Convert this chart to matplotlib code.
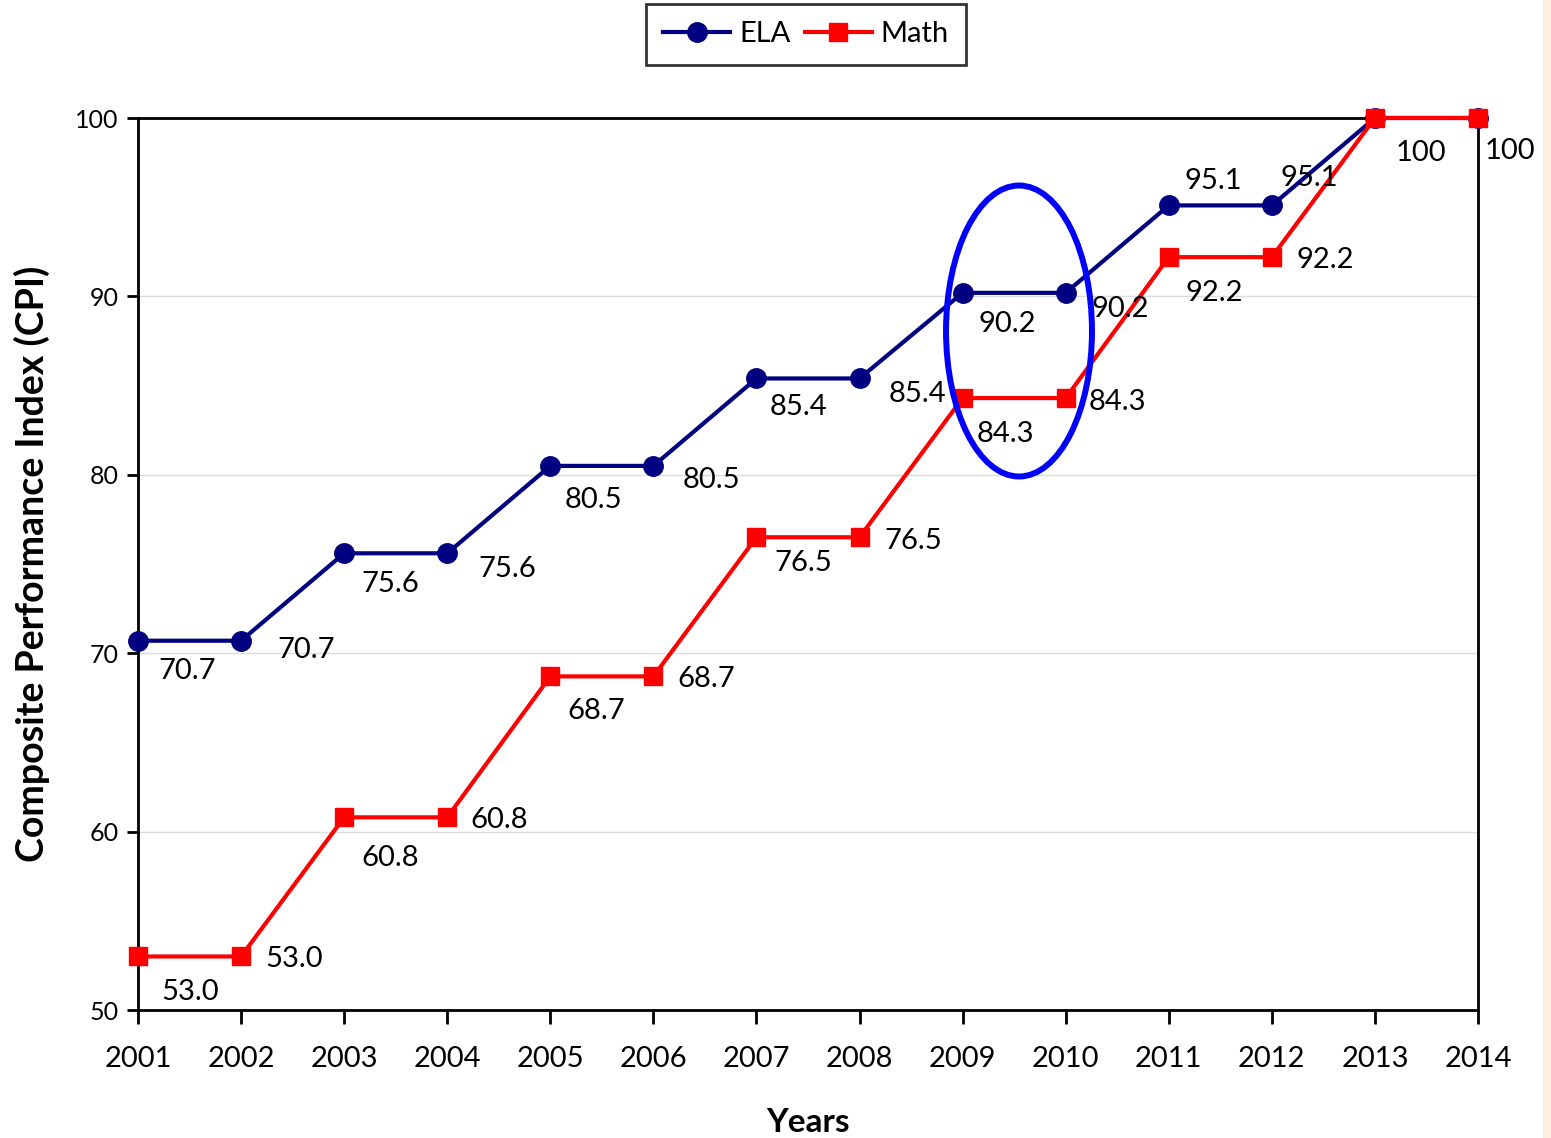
import matplotlib
matplotlib.use("Agg")
import matplotlib.pyplot as plt
from matplotlib.patches import Ellipse, Rectangle

plt.rcParams['font.family'] = ['Lato', 'DejaVu Sans']

# data
years = [2001, 2002, 2003, 2004, 2005, 2006, 2007, 2008, 2009, 2010, 2011, 2012, 2013, 2014]
ela = [70.7, 70.7, 75.6, 75.6, 80.5, 80.5, 85.4, 85.4, 90.2, 90.2, 95.1, 95.1, 100, 100]
math_ = [53.0, 53.0, 60.8, 60.8, 68.7, 68.7, 76.5, 76.5, 84.3, 84.3, 92.2, 92.2, 100, 100]
ela_text = ["70.7", "70.7", "75.6", "75.6", "80.5", "80.5", "85.4", "85.4", "90.2", "90.2", "95.1", "95.1", "100", "100"]
math_text = ["53.0", "53.0", "60.8", "60.8", "68.7", "68.7", "76.5", "76.5", "84.3", "84.3", "92.2", "92.2", "", ""]

# label offsets in pixels (dx right, dy down)
ela_off = [(49, 30), (65, 9), (46, 31), (60, 16), (43, 34), (58, 14), (42, 29), (58, 16),
           (45, 31), (55, 16), (45, -24), (37, -27), (46, 35), (32, 33)]
math_off = [(52, 36), (53, 3), (46, 41), (52, 3), (46, 35), (53, 3), (47, 26), (54, 4),
            (43, 36), (52, 4), (45, 36), (53, 3), (0, 0), (0, 0)]

fig = plt.figure(figsize=(15.51, 11.38), dpi=100)
fig.patches.append(Rectangle((1543 / 1551, 0), 8 / 1551, 1, transform=fig.transFigure,
                             facecolor='#FCF0DC', edgecolor='none', zorder=0))
ax = fig.add_axes([138 / 1551, 1 - 1010 / 1138, 1340 / 1551, 892 / 1138])

ax.plot(years, ela, color='#000080', lw=3, marker='o', ms=14, label='ELA', clip_on=False, zorder=3)
ax.plot(years, math_, color='#FF0000', lw=3, marker='s', ms=13.5, label='Math', clip_on=False, zorder=4)

px = 72 / 100
for x, y, t, (dx, dy) in zip(years, ela, ela_text, ela_off):
    ax.annotate(t, (x, y), xytext=(dx * px, -dy * px), textcoords='offset points',
                ha='center', va='center', fontsize=21, annotation_clip=False, zorder=5)
for x, y, t, (dx, dy) in zip(years, math_, math_text, math_off):
    if t:
        ax.annotate(t, (x, y), xytext=(dx * px, -dy * px), textcoords='offset points',
                    ha='center', va='center', fontsize=21, annotation_clip=False, zorder=5)

ax.add_patch(Ellipse((2009.547, 88.06), 1.416, 16.31, fill=False, edgecolor='#0000FF', lw=4.3, zorder=6))

ax.set_xlim(2001, 2014)
ax.set_ylim(50, 100)
ax.set_xticks(years)
ax.set_yticks([50, 60, 70, 80, 90, 100])
ax.tick_params(axis='x', labelsize=21, length=10, width=2, pad=16)
ax.tick_params(axis='y', labelsize=18, length=8, width=2, pad=6)
ax.grid(axis='y', color='#DCDCDC', lw=1)
ax.set_axisbelow(True)
for s in ax.spines.values():
    s.set_linewidth(2)

ax.set_xlabel('Years', fontsize=24, fontweight='bold', labelpad=26)
ax.set_ylabel('Composite Performance Index (CPI)', fontsize=27, fontweight='bold', labelpad=18)

leg = ax.legend(loc='center', bbox_to_anchor=(806 / 1551, 1 - 34 / 1138), bbox_transform=fig.transFigure,
                ncol=2, fontsize=21, frameon=True, fancybox=False, edgecolor='black',
                handlelength=2.3, columnspacing=0.5, handletextpad=0.3, borderpad=0.6)
leg.get_frame().set_linewidth(2)

fig.savefig('out.png', dpi=100)
